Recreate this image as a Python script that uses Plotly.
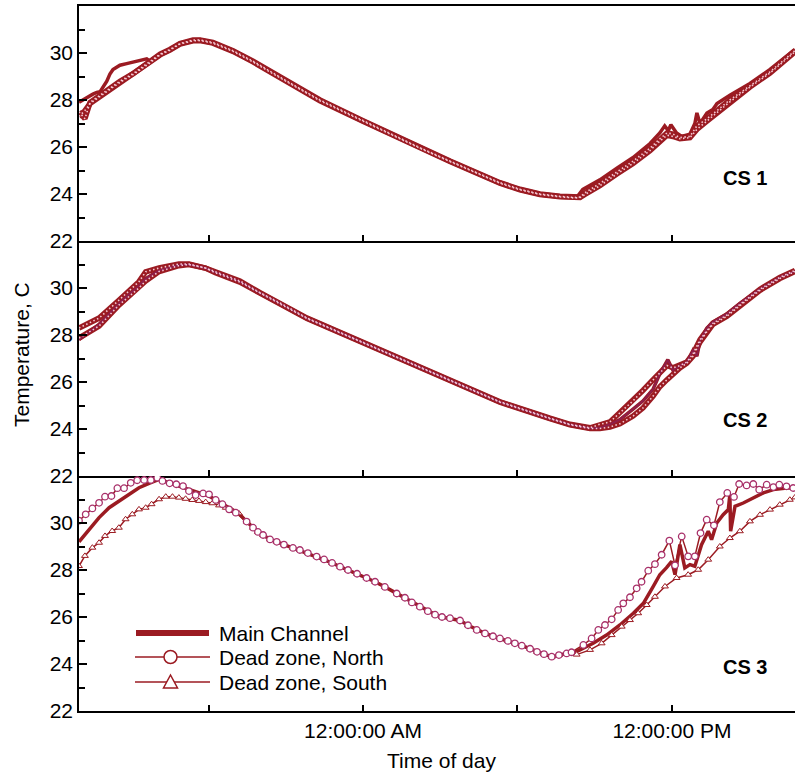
import plotly.graph_objects as go
from plotly.subplots import make_subplots

# ---------------- DATA (time in hours relative to midnight; negative = previous afternoon/evening) ----------------
# Panel CS 1
P1_M_T = [-11.03, -10.74, -10.49, -10.34, -10.21, -9.95, -9.83, -9.71, -9.44, -9.18, -8.93, -8.66, -8.40, -8.27,
          -7.88, -7.50, -7.11, -6.60, -6.33, -5.83, -5.05, -4.27, -3.50, -2.72, -1.67, 0.00, 1.44, 2.21, 3.38, 4.54,
          5.32, 6.10, 6.87, 7.65, 8.23, 8.31, 8.54, 9.20, 9.86, 10.49, 11.15, 11.53, 11.72, 11.86, 11.96, 12.18,
          12.38, 12.70, 12.89, 12.97, 13.09, 13.36, 13.59, 13.75, 14.25, 15.03, 15.81, 16.78]
P1_M_V = [27.90, 28.10, 28.25, 28.32, 28.35, 28.80, 29.10, 29.30, 29.48, 29.55, 29.62, 29.70, 29.75, 29.65,
          29.95, 30.15, 30.40, 30.55, 30.55, 30.45, 30.10, 29.65, 29.15, 28.65, 28.00, 27.12, 26.37, 25.97, 25.40, 24.85,
          24.48, 24.20, 24.00, 23.90, 23.85, 23.87, 24.20, 24.60, 25.10, 25.55, 26.15, 26.60, 26.90, 26.70, 26.95, 26.60,
          26.45, 26.55, 27.00, 27.45, 27.00, 27.45, 27.60, 27.85, 28.20, 28.70, 29.30, 30.15]
P1_DZ_T = [-11.03, -10.80, -10.60, -10.21, -9.83, -9.44, -8.93, -8.27, -7.88, -7.50, -7.11, -6.60, -6.33, -5.83,
           -5.05, -4.27, -3.50, -2.72, -1.67, 0.00, 1.44, 2.21, 3.38, 4.54, 5.32, 6.10, 6.87, 7.65, 8.23, 8.43, 8.62,
           9.20, 9.86, 10.49, 11.15, 11.53, 11.81, 12.04, 12.31, 12.70, 12.97, 13.36, 13.75, 14.25, 15.03, 15.81, 16.78]
P1_N_V = [27.50, 27.20, 27.90, 28.20, 28.50, 28.80, 29.12, 29.62, 29.95, 30.15, 30.40, 30.55, 30.55, 30.45,
          30.10, 29.65, 29.15, 28.65, 28.00, 27.12, 26.37, 25.97, 25.40, 24.85, 24.48, 24.20, 24.00, 23.90, 23.85, 23.87, 24.05,
          24.45, 24.95, 25.40, 25.95, 26.35, 26.60, 26.55, 26.40, 26.45, 26.90, 27.20, 27.55, 28.00, 28.60, 29.20, 30.10]
P1_S_V = [27.30, 27.55, 27.85, 28.15, 28.45, 28.75, 29.08, 29.58, 29.92, 30.12, 30.38, 30.52, 30.53, 30.42,
          30.07, 29.62, 29.12, 28.62, 27.97, 27.10, 26.35, 25.95, 25.38, 24.83, 24.46, 24.18, 23.98, 23.88, 23.83, 23.85, 23.98,
          24.35, 24.85, 25.30, 25.85, 26.25, 26.50, 26.45, 26.35, 26.40, 26.75, 27.10, 27.45, 27.92, 28.55, 29.15, 30.05]

# Panel CS 2
P2_DZ_T = [-11.03, -10.25, -9.47, -8.70, -8.44, -7.92, -7.15, -6.76, -6.12, -5.73, -4.78, -4.00, -3.22, -2.17, 0.00,
           2.21, 3.77, 5.32, 7.26, 8.04, 8.82, 9.20, 9.59, 9.98, 10.49, 10.88, 11.27, 11.53, 11.81, 12.04, 12.31,
           12.58, 12.82, 13.09, 13.36, 13.59, 14.14, 14.64, 15.42, 16.19, 16.78]
P2_N_V = [28.30, 28.72, 29.49, 30.27, 30.69, 30.85, 31.02, 31.02, 30.85, 30.69, 30.30, 29.80, 29.36, 28.72, 27.69,
          26.63, 25.90, 25.16, 24.46, 24.20, 24.05, 24.20, 24.30, 24.70, 25.20, 25.65, 26.10, 26.40, 26.70, 26.60, 26.70,
          26.85, 27.20, 27.80, 28.20, 28.50, 28.85, 29.30, 29.95, 30.45, 30.75]
P2_S_V = [27.87, 28.38, 29.28, 30.00, 30.30, 30.70, 30.95, 31.00, 30.85, 30.65, 30.25, 29.78, 29.33, 28.70, 27.67,
          26.61, 25.88, 25.14, 24.44, 24.18, 24.02, 24.02, 24.08, 24.22, 24.55, 24.90, 25.40, 25.80, 26.10, 26.35, 26.60,
          26.80, 27.10, 27.70, 28.15, 28.45, 28.80, 29.25, 29.90, 30.40, 30.70]
P2_M_T = [-11.03, -10.25, -9.47, -8.70, -8.44, -7.92, -7.15, -6.76, -6.12, -5.73, -4.78, -4.00, -3.22, -2.17, 0.00,
          2.21, 3.77, 5.32, 7.26, 8.04, 8.82, 9.20, 9.59, 9.98, 10.49, 10.88, 11.27, 11.53, 11.84, 12.04, 12.31,
          12.58, 12.82, 12.97, 13.09, 13.36, 13.59, 14.14, 14.64, 15.42, 16.19, 16.78]
P2_M_V = [27.80, 28.45, 29.35, 30.10, 30.40, 30.75, 30.98, 31.00, 30.85, 30.67, 30.27, 29.79, 29.35, 28.71, 27.68,
          26.62, 25.89, 25.15, 24.45, 24.19, 24.03, 24.05, 24.20, 24.40, 24.85, 25.20, 25.70, 26.35, 26.95, 26.50, 26.70,
          26.85, 27.35, 27.10, 27.75, 28.30, 28.55, 28.90, 29.35, 29.95, 30.45, 30.72]

# Panel CS 3
P3_N_LEFT_T = [-11.03, -10.77, -10.51, -10.25, -10.02, -9.77, -9.54, -9.28, -9.02, -8.77, -8.50, -8.24, -7.99,
               -7.79, -7.51, -7.25, -6.99, -6.76, -6.50, -6.21, -5.98, -5.72, -5.46, -5.20, -4.94]
P3_N_LEFT_V = [30.10, 30.37, 30.62, 30.86, 31.12, 31.15, 31.48, 31.48, 31.71, 31.82, 31.83, 31.83, 31.93,
               31.79, 31.69, 31.65, 31.57, 31.36, 31.19, 31.26, 31.22, 30.98, 30.80, 30.58, 30.44]
P3_M_LEFT_T = [-11.03, -10.64, -10.25, -9.86, -9.48, -9.09, -8.70, -8.31, -7.92, -7.53, -7.15, -6.76, -6.37,
               -5.98, -5.59, -5.20, -4.82]
P3_M_LEFT_V = [29.20, 29.73, 30.23, 30.65, 30.94, 31.22, 31.50, 31.69, 31.86, 31.71, 31.57, 31.43, 31.29,
               31.15, 30.89, 30.65, 30.41]
P3_S_LEFT_T = [-11.03, -10.80, -10.51, -10.25, -10.02, -9.74, -9.48, -9.22, -8.96, -8.70, -8.44, -8.21, -7.92,
               -7.66, -7.40, -7.15, -6.89, -6.63, -6.37, -6.11, -5.85, -5.59, -5.33, -5.08, -4.82]
P3_S_LEFT_V = [28.17, 28.60, 28.95, 29.16, 29.45, 29.66, 29.80, 30.16, 30.37, 30.58, 30.65, 30.80, 31.01,
               31.12, 31.12, 31.08, 31.03, 30.98, 30.94, 30.89, 30.84, 30.75, 30.65, 30.51, 30.41]
# common night-time descent (all three sensors overlap)
P3_D_T = [-4.52, -4.27, -4.08, -3.88, -3.61, -3.35, -3.07, -2.72, -2.45, -2.14, -1.80, -1.51, -1.20, -0.89, -0.58,
          -0.23, 0.14, 0.47, 0.85, 1.31, 1.63, 1.90, 2.21, 2.52, 2.80, 3.07, 3.38, 3.77, 4.08, 4.42, 4.74, 5.05,
          5.32, 5.63, 5.90, 6.17, 6.49, 6.76, 7.03, 7.33, 7.61, 7.91]
P3_D_V = [30.06, 29.80, 29.62, 29.49, 29.30, 29.20, 29.08, 28.94, 28.85, 28.72, 28.57, 28.45, 28.30, 28.14, 28.00,
          27.84, 27.66, 27.50, 27.28, 27.00, 26.82, 26.62, 26.44, 26.25, 26.10, 26.00, 25.95, 25.85, 25.65, 25.45,
          25.30, 25.18, 25.09, 24.98, 24.88, 24.78, 24.65, 24.52, 24.42, 24.31, 24.38, 24.45]
P3_N_RISE_T = [8.10, 8.56, 8.88, 9.14, 9.40, 9.66, 9.91, 10.11, 10.37, 10.63, 10.82, 11.08, 11.34, 11.60, 11.90,
               12.12, 12.38, 12.63, 12.89, 13.11, 13.35, 13.63, 13.86, 14.15, 14.41, 14.61, 14.90, 15.16, 15.39,
               15.68, 15.94, 16.17, 16.45, 16.71]
P3_N_RISE_V = [24.50, 24.81, 25.09, 25.45, 25.66, 25.90, 26.30, 26.58, 26.84, 27.22, 27.50, 27.97, 28.25, 28.65,
               29.25, 28.20, 29.43, 28.58, 28.58, 29.57, 30.14, 29.90, 30.89, 31.28, 31.11, 31.66, 31.60, 31.66,
               31.42, 31.63, 31.53, 31.63, 31.56, 31.49]
P3_M_RISE_T = [8.17, 8.94, 9.46, 9.98, 10.50, 10.89, 11.27, 11.53, 11.79, 11.99, 12.12, 12.31, 12.50, 12.70, 12.89,
               13.15, 13.41, 13.54, 13.74, 13.99, 14.19, 14.25, 14.28, 14.45, 14.77, 15.16, 15.55, 15.94, 16.46, 16.78]
P3_M_RISE_V = [24.46, 24.88, 25.23, 25.66, 26.16, 26.58, 27.29, 27.80, 28.10, 28.37, 27.80, 29.08, 28.09, 28.23,
               28.16, 29.08, 29.65, 29.29, 30.00, 30.35, 30.57, 31.20, 29.65, 30.71, 30.85, 31.06, 31.28, 31.42,
               31.49, 31.49]
P3_S_RISE_T = [8.30, 8.82, 9.27, 9.66, 10.05, 10.37, 10.69, 11.02, 11.34, 11.73, 12.18, 12.63, 13.02, 13.41,
               13.86, 14.25, 14.64, 15.03, 15.42, 15.81, 16.19, 16.58, 16.78]
P3_S_RISE_V = [24.40, 24.60, 24.88, 25.23, 25.59, 25.87, 26.16, 26.51, 26.86, 27.30, 27.66, 27.80, 28.01, 28.44,
               29.00, 29.36, 29.65, 30.07, 30.35, 30.57, 30.78, 30.99, 31.09]

SERIES_NAMES = ["Main Channel", "Dead zone, North", "Dead zone, South"]
PANEL_LABELS = ["CS 1", "CS 2", "CS 3"]
X_TICKS = [-6, 0, 6, 12]
X_TICKTEXT = ["", "12:00:00 AM", "", "12:00:00 PM"]
Y_TICKS = [22, 24, 26, 28, 30]
Y_MINOR = [23, 25, 27, 29, 31]
X_RANGE = [-11.03, 16.78]
Y_RANGE = [22, 32]

# ---------------- STYLE ----------------
DR = "#9B1B22"
PINK = "#A8306A"
FONT = "Liberation Sans, Arial, Helvetica, sans-serif"

fig = make_subplots(rows=3, cols=1, shared_xaxes=True, vertical_spacing=0)


def band(t, v, row):
    fig.add_trace(go.Scatter(x=t, y=v, mode="lines", line=dict(color=DR, width=5.5),
                             showlegend=False, hoverinfo="skip"), row=row, col=1)


def band_dots(t, v, row):
    fig.add_trace(go.Scatter(x=t, y=v, mode="lines",
                             line=dict(color="rgba(255,220,232,0.9)", width=1.6, dash="1.5px,2.5px"),
                             showlegend=False, hoverinfo="skip"), row=row, col=1)


# Panel 1
fig.add_trace(go.Scatter(x=P1_M_T, y=P1_M_V, mode="lines", line=dict(color=DR, width=3.5),
                         name=SERIES_NAMES[0], showlegend=False), row=1, col=1)
band(P1_DZ_T, P1_S_V, 1)
band(P1_DZ_T, P1_N_V, 1)
band_dots(P1_DZ_T, P1_S_V, 1)
band_dots(P1_DZ_T, P1_N_V, 1)

# Panel 2
fig.add_trace(go.Scatter(x=P2_M_T, y=P2_M_V, mode="lines", line=dict(color=DR, width=3.5),
                         name=SERIES_NAMES[0], showlegend=False), row=2, col=1)
band(P2_DZ_T, P2_S_V, 2)
band(P2_DZ_T, P2_N_V, 2)
fig.add_trace(go.Scatter(x=P2_M_T, y=P2_M_V, mode="lines", line=dict(color="#8E1E4A", width=2),
                         showlegend=False, hoverinfo="skip"), row=2, col=1)
band_dots(P2_DZ_T, P2_S_V, 2)
band_dots(P2_DZ_T, P2_N_V, 2)

# Panel 3
fig.add_trace(go.Scatter(x=P3_M_LEFT_T + P3_D_T + P3_M_RISE_T, y=P3_M_LEFT_V + P3_D_V + P3_M_RISE_V,
                         mode="lines", line=dict(color=DR, width=3.5), name=SERIES_NAMES[0],
                         showlegend=False), row=3, col=1)
fig.add_trace(go.Scatter(x=P3_S_LEFT_T + P3_D_T + P3_S_RISE_T, y=P3_S_LEFT_V + P3_D_V + P3_S_RISE_V,
                         mode="lines+markers", line=dict(color=DR, width=1.5),
                         marker=dict(symbol="triangle-up", size=6, color="white", line=dict(color=DR, width=1)),
                         name=SERIES_NAMES[2], showlegend=False), row=3, col=1)
fig.add_trace(go.Scatter(x=P3_N_LEFT_T + P3_D_T + P3_N_RISE_T, y=P3_N_LEFT_V + P3_D_V + P3_N_RISE_V,
                         mode="lines+markers", line=dict(color=DR, width=1.5),
                         marker=dict(symbol="circle", size=6.5, color="white", line=dict(color=PINK, width=1.3)),
                         name=SERIES_NAMES[1], showlegend=False), row=3, col=1)

# Axes
for r in (1, 2, 3):
    fig.update_yaxes(range=Y_RANGE, tickvals=Y_TICKS, ticks="inside", ticklen=8, tickwidth=1.5, tickcolor="black",
                     minor=dict(tickvals=Y_MINOR, ticks="inside", ticklen=6, tickwidth=1.5, tickcolor="black"),
                     showline=True, linecolor="black", linewidth=1.5, showgrid=False, zeroline=False,
                     tickfont=dict(size=21, color="black", family=FONT), row=r, col=1)
    fig.update_xaxes(range=X_RANGE, tickvals=X_TICKS, ticktext=X_TICKTEXT, ticks="inside", ticklen=6,
                     tickwidth=1.5, tickcolor="black", showline=True, linecolor="black", linewidth=1.5,
                     showgrid=False, zeroline=False, tickfont=dict(size=21, color="black", family=FONT),
                     row=r, col=1)
fig.update_xaxes(mirror=True, row=1, col=1)

# ---------------- PIXEL -> PAPER helpers for decorations ----------------
L, T, W, H = 79, 6, 716, 705


def px(xp):
    return (xp - L) / W


def py(yp):
    return (T + H - yp) / H


annotations = []
for lab, yp in zip(PANEL_LABELS, [178, 420, 667]):
    annotations.append(dict(x=px(745), y=py(yp), xref="paper", yref="paper", text="<b>%s</b>" % lab,
                            showarrow=False, font=dict(size=20, family=FONT, color="black"),
                            xanchor="center", yanchor="middle"))
annotations.append(dict(x=px(21), y=py(355), xref="paper", yref="paper", text="Temperature, C", textangle=-90,
                        showarrow=False, font=dict(size=21, family=FONT, color="black"),
                        xanchor="center", yanchor="middle"))
annotations.append(dict(x=px(441), y=py(760), xref="paper", yref="paper", text="Time of day",
                        showarrow=False, font=dict(size=21, family=FONT, color="black"),
                        xanchor="center", yanchor="middle"))

# legend (drawn manually)
LEG_Y = [633, 657, 682]
for name, yp in zip(SERIES_NAMES, LEG_Y):
    annotations.append(dict(x=px(217), y=py(yp), xref="paper", yref="paper", text=name, showarrow=False,
                            font=dict(size=21, family=FONT, color="black"), xanchor="left", yanchor="middle"))

shapes = [
    dict(type="line", xref="paper", yref="paper", x0=px(136), x1=px(209), y0=py(LEG_Y[0]), y1=py(LEG_Y[0]),
         line=dict(color=DR, width=6)),
    dict(type="line", xref="paper", yref="paper", x0=px(135), x1=px(210), y0=py(LEG_Y[1]), y1=py(LEG_Y[1]),
         line=dict(color=DR, width=1.5)),
    dict(type="line", xref="paper", yref="paper", x0=px(135), x1=px(210), y0=py(LEG_Y[2]), y1=py(LEG_Y[2]),
         line=dict(color=DR, width=1.5)),
    dict(type="circle", xref="paper", yref="paper", xsizemode="pixel", ysizemode="pixel",
         xanchor=px(170.5), yanchor=py(LEG_Y[1]), x0=-6.5, x1=6.5, y0=-6.5, y1=6.5,
         fillcolor="white", line=dict(color=DR, width=1.5)),
    dict(type="path", xref="paper", yref="paper", xsizemode="pixel", ysizemode="pixel",
         xanchor=px(170.5), yanchor=py(LEG_Y[2]), path="M -7 -6 L 7 -6 L 0 7 Z",
         fillcolor="white", line=dict(color=DR, width=1.5)),
]

fig.update_layout(width=795, height=776, margin=dict(l=L, r=0, t=T, b=776 - T - H),
                  plot_bgcolor="white", paper_bgcolor="white", showlegend=False,
                  font=dict(family=FONT, size=21, color="black"),
                  annotations=annotations, shapes=shapes)

fig.write_html("out.html")
